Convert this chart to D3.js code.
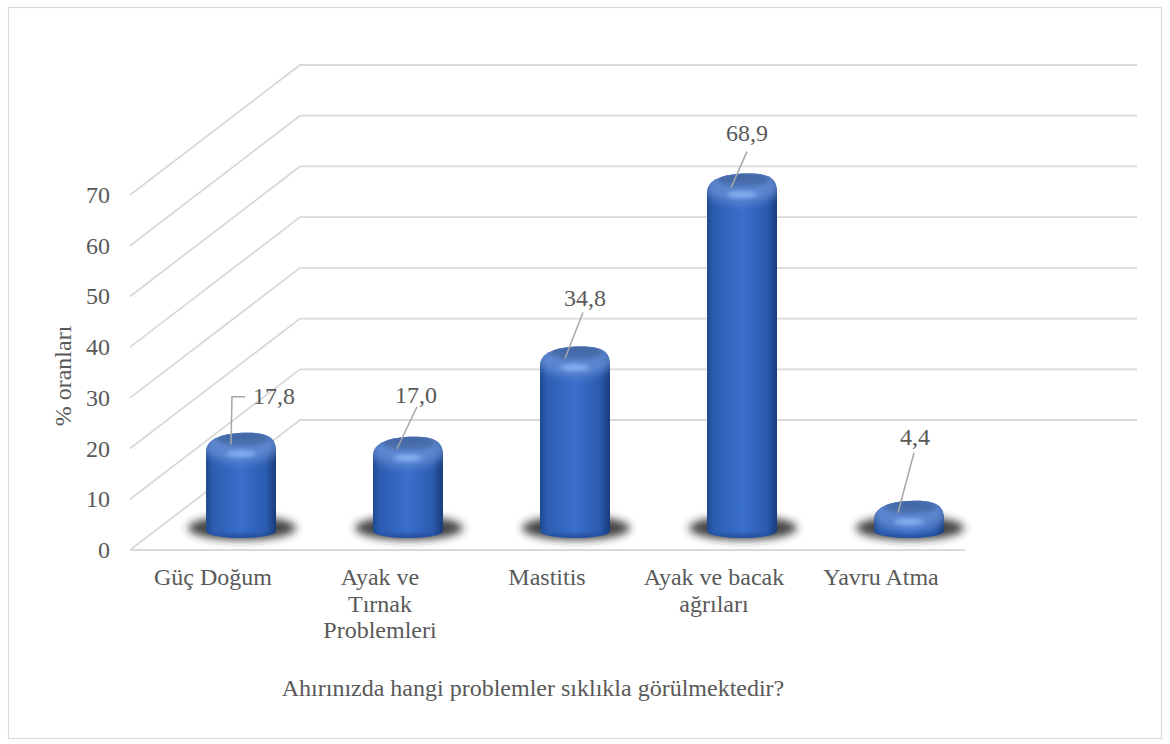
<!DOCTYPE html>
<html>
<head>
<meta charset="utf-8">
<title>Ahır problemleri</title>
<script src="https://d3js.org/d3.v7.min.js"></script>
<style>
	html, body { margin: 0; padding: 0; background: #fff; }
	svg { display: block; }
	text { font-family: "Liberation Serif", serif; fill: #595959; }
</style>
</head>
<body>
<svg width="1170" height="744"></svg>
<script>
var categories = [["Güç Doğum"], ["Ayak ve", "Tırnak", "Problemleri"], ["Mastitis"], ["Ayak ve bacak", "ağrıları"], ["Yavru Atma"]];
var values = [17.8, 17.0, 34.8, 68.9, 4.4];
var valueLabels = ["17,8", "17,0", "34,8", "68,9", "4,4"];
var yTicks = [0, 10, 20, 30, 40, 50, 60, 70];
var xTitle = "Ahırınızda hangi problemler sıklıkla görülmektedir?";
var yTitle = "% oranları";

var svg = d3.select("svg");
var defs = svg.append("defs");

svg.append("rect").attr("x", 8.5).attr("y", 7.5).attr("width", 1153).attr("height", 731)
	.attr("fill", "#fff").attr("stroke", "#d9d9d9").attr("stroke-width", 1.2);

// side wall starts on the front scale, back wall on the back scale
var yFront = d3.scaleLinear().domain([0, 70]).range([550, 195]);
var yBack = d3.scaleLinear().domain([0, 70]).range([420, 65]);
// bars stand a bit behind the front edge of the floor
var yBar = d3.scaleLinear().domain([0, 70]).range([537, 182]);
var x = d3.scaleBand().domain(d3.range(values.length)).range([157.5, 992.5]);
var barW = 70;

svg.selectAll("path.grid").data(yTicks).enter().append("path")
	.attr("class", "grid")
	.attr("fill", "none")
	.attr("stroke", "#d9d9d9")
	.attr("stroke-width", 1.8)
	.attr("d", function(d) {
		return "M130," + yFront(d) + "L300," + yBack(d) + "L1137," + yBack(d);
	});
svg.append("line").attr("x1", 130).attr("x2", 965)
	.attr("y1", yFront(0)).attr("y2", yFront(0))
	.attr("stroke", "#d9d9d9").attr("stroke-width", 1.8);

// tick labels
svg.selectAll("text.tick").data(yTicks).enter().append("text")
	.attr("class", "tick")
	.attr("x", 110)
	.attr("y", function(d) { return yFront(d) + 8; })
	.attr("text-anchor", "end")
	.attr("font-size", 24)
	.text(function(d) { return d; });

svg.append("text")
	.attr("transform", "translate(71,376) rotate(-90)")
	.attr("text-anchor", "middle")
	.attr("font-size", 24)
	.text(yTitle);

// gradients and blurs
var side = defs.append("linearGradient").attr("id", "side");
[[0, "#1f4a90"], [0.1, "#2c5db0"], [0.5, "#3a6fcc"], [0.85, "#2c5cb0"], [1, "#183c7c"]].forEach(function(s) {
	side.append("stop").attr("offset", s[0]).attr("stop-color", s[1]);
});
var cap = defs.append("linearGradient").attr("id", "cap").attr("x2", 0).attr("y2", 1);
cap.append("stop").attr("offset", 0).attr("stop-color", "#41659f");
cap.append("stop").attr("offset", 1).attr("stop-color", "#4c72b4");
defs.append("filter").attr("id", "blur4").attr("x", "-30%").attr("y", "-80%").attr("width", "160%").attr("height", "260%")
	.append("feGaussianBlur").attr("stdDeviation", 4);
defs.append("filter").attr("id", "blur6").attr("x", "-40%").attr("y", "-100%").attr("width", "180%").attr("height", "300%")
	.append("feGaussianBlur").attr("stdDeviation", 5);
defs.append("filter").attr("id", "blur2").attr("x", "-40%").attr("y", "-100%").attr("width", "180%").attr("height", "300%")
	.append("feGaussianBlur").attr("stdDeviation", 2);

function barPath(cx, top) {
	var l = cx - barW / 2, r = cx + barW / 2, bottom = yBar(0) - 6;
	var shoulder = top + 19;
	return "M" + l + "," + bottom +
		"A35,7 0 0 0 " + r + "," + bottom +
		"L" + r + "," + shoulder +
		"C" + r + "," + (top + 4) + " " + (cx + 26) + "," + top + " " + (cx + 6) + "," + top +
		"C" + (cx - 18) + "," + top + " " + l + "," + (top + 6) + " " + l + "," + shoulder + "Z";
}

function barTop(d) { return yBar(d) - 14; }

var bars = svg.selectAll("g.bar").data(values).enter().append("g").attr("class", "bar");

bars.each(function(d, i) {
	var g = d3.select(this);
	var cx = x(i) + x.bandwidth() / 2;
	var top = barTop(d);
	var path = barPath(cx, top);

	defs.append("clipPath").attr("id", "clip" + i).append("path").attr("d", path);

	// floor shadow
	g.append("ellipse").attr("cx", cx + 1).attr("cy", yBar(0) - 9)
		.attr("rx", 54).attr("ry", 12)
		.attr("fill", "#222").attr("opacity", 0.85).attr("filter", "url(#blur4)");

	g.append("path").attr("d", path).attr("fill", "url(#side)");

	var inner = g.append("g").attr("clip-path", "url(#clip" + i + ")");
	// lighter rim round the top
	inner.append("ellipse").attr("cx", cx).attr("cy", top + 12)
		.attr("rx", 40).attr("ry", 18)
		.attr("fill", "#6890d6").attr("opacity", 0.8).attr("filter", "url(#blur6)");
	// dark lower edge
	inner.append("ellipse").attr("cx", cx).attr("cy", yBar(0) + 1)
		.attr("rx", 36).attr("ry", 4)
		.attr("fill", "#1a3f86").attr("opacity", 0.6).attr("filter", "url(#blur2)");
	// flat cap
	inner.append("ellipse").attr("cx", cx + 1).attr("cy", top + 6)
		.attr("rx", 26).attr("ry", 7.5)
		.attr("fill", "url(#cap)").attr("filter", "url(#blur2)");
	// highlight
	inner.append("ellipse").attr("cx", cx).attr("cy", top + 21)
		.attr("rx", 15).attr("ry", 3)
		.attr("fill", "#8cb8f6").attr("opacity", 0.9).attr("filter", "url(#blur2)");
});

// label position and leader points, relative to bar centre / bar top
var labelLayout = [
	{ dx: 33, dy: -29, leader: [[4, -36], [-9, -36], [-10, 12]] },
	{ dx: 8, dy: -34, leader: [[9, -30], [-11, 12]] },
	{ dx: 10, dy: -41, leader: [[8, -34], [-10, 12]] },
	{ dx: 5, dy: -33, leader: [[5, -22], [-11, 14]] },
	{ dx: 6, dy: -56, leader: [[5, -48], [-11, 12]] }
];

bars.each(function(d, i) {
	var g = d3.select(this);
	var cx = x(i) + x.bandwidth() / 2;
	var top = barTop(d);
	var lay = labelLayout[i];
	g.append("path")
		.attr("fill", "none")
		.attr("stroke", "#a6a6a6")
		.attr("stroke-width", 1.5)
		.attr("d", d3.line()(lay.leader.map(function(p) { return [cx + p[0], top + p[1]]; })));
	g.append("text")
		.attr("x", cx + lay.dx)
		.attr("y", top + lay.dy)
		.attr("text-anchor", "middle")
		.attr("font-size", 24)
		.text(valueLabels[i]);
});

// category labels sit left of the bars, under the front edge
svg.selectAll("text.cat").data(categories).enter().append("text")
	.attr("class", "cat")
	.attr("font-size", 24)
	.attr("text-anchor", "middle")
	.each(function(lines, i) {
		var t = d3.select(this);
		lines.forEach(function(s, j) {
			t.append("tspan")
				.attr("x", x(i) + x.bandwidth() / 2 - 28)
				.attr("y", 585 + j * 26.5)
				.text(s);
		});
	});

svg.append("text")
	.attr("x", 533)
	.attr("y", 696)
	.attr("text-anchor", "middle")
	.attr("font-size", 24)
	.text(xTitle);
</script>
</body>
</html>
